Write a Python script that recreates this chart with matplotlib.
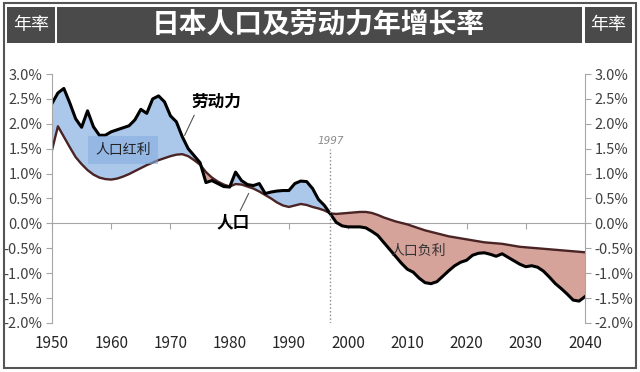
import matplotlib
matplotlib.use('Agg')
import matplotlib.pyplot as plt
from matplotlib.patches import Rectangle
import numpy as np

plt.rcParams['font.family'] = ['Noto Sans CJK SC', 'DejaVu Sans']

# 年份
years = np.arange(1950, 2041)

# 劳动力年增长率 (%)
labor = np.array([
    2.41, 2.62, 2.71, 2.42, 2.10, 1.93, 2.26, 1.94, 1.77, 1.77,
    1.84, 1.88, 1.92, 1.96, 2.08, 2.29, 2.21, 2.50, 2.56, 2.44,
    2.16, 2.04, 1.74, 1.50, 1.36, 1.22, 0.82, 0.86, 0.80, 0.74,
    0.73, 1.03, 0.86, 0.78, 0.76, 0.80, 0.60, 0.63, 0.65, 0.66,
    0.66, 0.80, 0.85, 0.84, 0.70, 0.48, 0.36, 0.19, 0.02, -0.05,
    -0.07, -0.07, -0.07, -0.09, -0.16, -0.24, -0.38, -0.52, -0.66, -0.80,
    -0.92, -0.98, -1.10, -1.19, -1.21, -1.17, -1.06, -0.95, -0.85, -0.78,
    -0.74, -0.64, -0.60, -0.59, -0.62, -0.66, -0.61, -0.68, -0.75, -0.82,
    -0.87, -0.85, -0.88, -0.96, -1.08, -1.21, -1.31, -1.42, -1.54, -1.56,
    -1.47,
])

# 人口年增长率 (%)
population = np.array([
    1.47, 1.95, 1.74, 1.53, 1.33, 1.19, 1.07, 0.98, 0.92, 0.89,
    0.88, 0.90, 0.94, 0.99, 1.05, 1.11, 1.17, 1.22, 1.27, 1.31,
    1.35, 1.38, 1.39, 1.35, 1.27, 1.18, 1.03, 0.92, 0.84, 0.78,
    0.74, 0.79, 0.78, 0.74, 0.70, 0.64, 0.57, 0.50, 0.42, 0.36,
    0.33, 0.36, 0.39, 0.37, 0.33, 0.30, 0.26, 0.20, 0.19, 0.20,
    0.21, 0.22, 0.23, 0.23, 0.21, 0.17, 0.12, 0.08, 0.04, 0.01,
    -0.02, -0.06, -0.10, -0.14, -0.17, -0.20, -0.23, -0.26, -0.28, -0.30,
    -0.32, -0.34, -0.36, -0.38, -0.39, -0.40, -0.41, -0.43, -0.45, -0.47,
    -0.48, -0.49, -0.50, -0.51, -0.52, -0.53, -0.54, -0.55, -0.56, -0.57,
    -0.58,
])

x_ticks = [1950, 1960, 1970, 1980, 1990, 2000, 2010, 2020, 2030, 2040]
y_ticks = [-2.0, -1.5, -1.0, -0.5, 0.0, 0.5, 1.0, 1.5, 2.0, 2.5, 3.0]

fig = plt.figure(figsize=(6.4, 3.72), dpi=100)
W, H = 640, 372

def fig_rect(x0, y0, x1, y1, **kw):
    # 像素坐标 -> figure 坐标
    return Rectangle((x0 / W, 1 - y1 / H), (x1 - x0) / W, (y1 - y0) / H,
                     transform=fig.transFigure, **kw)

# 外框和标题栏
fig.patches.append(fig_rect(4, 3, 636, 368, fill=False, edgecolor='#555555', linewidth=1.5))
box_color = '#4a4a4a'
fig.patches.append(fig_rect(7, 7, 55, 43, facecolor=box_color, edgecolor='none'))
fig.patches.append(fig_rect(57, 7, 582, 43, facecolor=box_color, edgecolor='none'))
fig.patches.append(fig_rect(585, 7, 632, 43, facecolor=box_color, edgecolor='none'))
fig.text(31 / W, 1 - 25 / H, '年率', color='white', fontsize=13, ha='center', va='center')
fig.text(608 / W, 1 - 25 / H, '年率', color='white', fontsize=13, ha='center', va='center')
fig.text(318 / W, 1 - 25 / H, '日本人口及劳动力年增长率', color='white', fontsize=20,
         fontweight='bold', ha='center', va='center')

ax = fig.add_axes([52 / W, 1 - 323 / H, 533 / W, 249 / H])

blue = '#abc8ea'
red = '#d6a39b'
ax.fill_between(years, labor, population, where=labor >= population,
                interpolate=True, color=blue, linewidth=0)
ax.fill_between(years, labor, population, where=labor < population,
                interpolate=True, color=red, linewidth=0)
ax.plot(years, population, color='#4a2424', linewidth=1.7)
ax.plot(years, labor, color='black', linewidth=2.2)

ax.set_xlim(1950, 2040)
ax.set_ylim(-2.0, 3.0)

# 1997 分界线
ax.plot([1997, 1997], [-2.0, 1.5], color='#8a8a8a', linestyle=':', linewidth=1)
ax.text(1997, 1.55, '1997', color='#8a8a8a', fontsize=7.5, fontstyle='italic',
        ha='center', va='bottom', family=['DejaVu Sans'])

# 标注
ax.text(1962, 1.47, '人口红利', fontsize=10, color='#222222', ha='center', va='center',
        bbox=dict(boxstyle='square,pad=0.5', facecolor='#85ade0', edgecolor='none', alpha=0.6))
ax.text(2011.8, -0.55, '人口负利', fontsize=10, color='#333333', ha='center', va='center')
ax.text(1977.7, 2.45, '劳动力', fontsize=12, fontweight='bold', ha='center', va='center')
ax.plot([1974.0, 1972.4], [2.17, 1.77], color='#555555', linewidth=0.8)
ax.text(1980.6, 0.02, '人口', fontsize=12, fontweight='bold', ha='center', va='center')
ax.plot([1983.2, 1981.8], [0.60, 0.26], color='#555555', linewidth=0.8)

# 坐标轴样式
axis_gray = '#a6a6a6'
for side in ['top', 'bottom', 'right']:
    ax.spines[side].set_visible(False)
ax.spines['left'].set_color(axis_gray)
ax.set_yticks(y_ticks)
ax.set_yticklabels(['%.1f%%' % v for v in y_ticks])
ax.tick_params(axis='y', direction='out', length=4, color=axis_gray,
               labelsize=10.5, labelcolor='#404040', pad=3)
ax.set_xticks(x_ticks)
ax.set_xticklabels([str(v) for v in x_ticks])
ax.tick_params(axis='x', length=0, labelsize=11, labelcolor='#262626', pad=9)

# 零线及刻度
zero_ax = ax.secondary_xaxis(0.4)
zero_ax.spines['bottom'].set_color(axis_gray)
zero_ax.set_xticks(x_ticks)
zero_ax.tick_params(direction='out', length=4, color=axis_gray, labelbottom=False)

ax2 = ax.twinx()
ax2.set_ylim(-2.0, 3.0)
for side in ['top', 'bottom', 'left']:
    ax2.spines[side].set_visible(False)
ax2.spines['right'].set_color(axis_gray)
ax2.set_yticks(y_ticks)
ax2.set_yticklabels(['%.1f%%' % v for v in y_ticks])
ax2.tick_params(axis='y', direction='out', length=4, color=axis_gray,
                labelsize=10.5, labelcolor='#404040', pad=3)

fig.savefig('out.png', dpi=100)
